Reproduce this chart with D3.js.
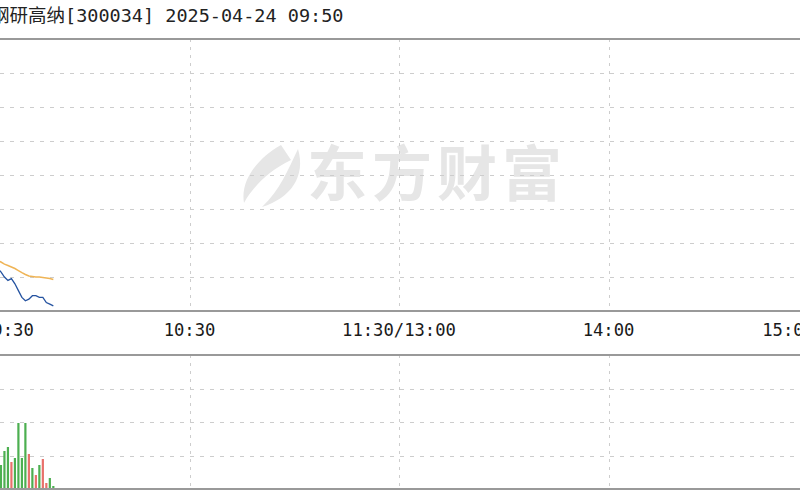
<!DOCTYPE html>
<html>
<head>
<meta charset="utf-8">
<script src="https://cdn.jsdelivr.net/npm/d3@7/dist/d3.min.js"></script>
<style>
  html, body { margin: 0; padding: 0; background: #fff; }
  svg { display: block; }
</style>
</head>
<body>
<svg id="chart" width="800" height="500"></svg>
<script>
// ---- data ----
const titleName = "钢研高纳";
const titleRest = "[300034] 2025-04-24 09:50";
const watermarkText = "东方财富";
const prevClose = 11.52;
const priceStep = 0.2;
// minute index from 09:30 (0 .. 240)
const minutes = [0,1,2,3,4,5,6,7,8,9,10,11,12,13,14,15,16,17,18,19,20,21];
const price = [11.08,11.05,11.01,11.03,10.99,10.97,10.95,10.92,10.90,10.91,10.88,10.84,10.80,10.78,10.79,10.81,10.81,10.80,10.80,10.77,10.76,10.75];
const avgPrice = [11.080,11.061,11.049,11.038,11.026,11.017,11.008,10.996,10.988,10.979,10.970,10.958,10.946,10.935,10.926,10.923,10.920,10.920,10.917,10.914,10.911,10.905];
const volume = [6200,3100,2800,2100,2400,1900,1433,2269,2507,1612,1851,3940,1851,3940,2090,1254,836,1433,1791,358,657,179];
const direction = [-1,-1,-1,1,-1,-1,-1,-1,-1,1,-1,-1,-1,-1,1,-1,1,-1,1,1,-1,-1];
const tickMinutes = [0,60,120,180,240];
const tickLabels = ["09:30","10:30","11:30/13:00","14:00","15:00"];
const volumeMax = 8000;
const volumeTicks = [2000,4000,6000];

// ---- layout ----
const svg = d3.select("#chart");
const left = -20, right = 818;
const pTop = 39, pBot = 311, vTop = 355, vBot = 489;

const x = d3.scaleLinear().domain([0, 240]).range([left, right]);
const y = d3.scaleLinear().domain([prevClose - 4*priceStep, prevClose + 4*priceStep]).range([pBot, pTop]);
const yv = d3.scaleLinear().domain([0, volumeMax]).range([vBot, vTop]);

const gridColor = "#cdcdcd";
const dash = "4,6";

// watermark
const wm = svg.append("g").attr("fill", "#e6e6e6");
wm.append("path").attr("d", "M 281 145 C 258 158, 240 180, 244 203 C 253 187, 268 171, 291 160 Z");
wm.append("path").attr("d", "M 298 149 C 288 170, 280 190, 262 207 C 291 198, 306 176, 298 149 Z");
wm.append("text")
  .attr("x", 307).attr("y", 196)
  .attr("font-family", "'Noto Sans CJK SC', sans-serif")
  .attr("font-weight", "bold")
  .attr("font-size", 60)
  .attr("letter-spacing", 5)
  .text(watermarkText);

// price grid (horizontal)
const priceGridVals = d3.range(-3, 4).map(k => prevClose + k * priceStep);
svg.append("g").selectAll("line").data(priceGridVals).join("line")
  .attr("x1", 0).attr("x2", 800)
  .attr("y1", d => Math.round(y(d)) + 0.5).attr("y2", d => Math.round(y(d)) + 0.5)
  .attr("stroke", gridColor).attr("stroke-dasharray", dash);

// volume grid (horizontal)
svg.append("g").selectAll("line").data(volumeTicks).join("line")
  .attr("x1", 0).attr("x2", 800)
  .attr("y1", d => Math.round(yv(d)) + 0.5).attr("y2", d => Math.round(yv(d)) + 0.5)
  .attr("stroke", gridColor).attr("stroke-dasharray", dash);

// vertical grid
const innerTicks = tickMinutes.slice(1, -1);
[[pTop, pBot], [vTop, vBot]].forEach(([t, b]) => {
  svg.append("g").selectAll("line").data(innerTicks).join("line")
    .attr("x1", d => Math.round(x(d)) + 0.5).attr("x2", d => Math.round(x(d)) + 0.5)
    .attr("y1", t).attr("y2", b)
    .attr("stroke", gridColor).attr("stroke-dasharray", "3,5");
});

// panel borders
[pTop, pBot, vTop, vBot].forEach(v => {
  svg.append("line").attr("x1", 0).attr("x2", 800).attr("y1", v).attr("y2", v)
    .attr("stroke", "#999").attr("stroke-width", 2);
});

// volume bars
const vol = minutes.map((m, i) => ({m, v: volume[i], d: direction[i]}));
svg.append("g").selectAll("rect").data(vol).join("rect")
  .attr("x", d => x(d.m) - 1.1)
  .attr("width", 2.2)
  .attr("y", d => yv(d.v))
  .attr("height", d => vBot - 1 - yv(d.v))
  .attr("fill", d => d.d > 0 ? "#e8716b" : "#4caf50");

// average line
const pts = minutes.map((m, i) => ({m, p: price[i], a: avgPrice[i]}));
svg.append("path").datum(pts)
  .attr("fill", "none").attr("stroke", "#efb456").attr("stroke-width", 1.5)
  .attr("d", d3.line().x(d => x(d.m)).y(d => y(d.a)));
// price line
svg.append("path").datum(pts)
  .attr("fill", "none").attr("stroke", "#2553a0").attr("stroke-width", 1.3)
  .attr("d", d3.line().x(d => x(d.m)).y(d => y(d.p)));

// x-axis labels
svg.append("g").selectAll("text").data(tickMinutes).join("text")
  .attr("x", (d, i) => i === 0 ? x(d) + 2 : (i === tickMinutes.length - 1 ? x(d) - 4 : x(d)))
  .attr("y", 336)
  .attr("text-anchor", (d, i) => i === 0 ? "start" : (i === tickMinutes.length - 1 ? "end" : "middle"))
  .attr("font-family", "'DejaVu Sans Mono', monospace")
  .attr("font-size", 17.2)
  .attr("fill", "#1a1a1a")
  .text((d, i) => tickLabels[i]);

// title
const title = svg.append("text")
  .attr("y", 22)
  .attr("font-family", "'DejaVu Sans Mono', 'Noto Sans CJK SC', monospace")
  .attr("font-size", 18.5)
  .attr("fill", "#222");
title.append("tspan").attr("x", -9).attr("font-family", "'Noto Sans CJK SC', sans-serif").text(titleName);
title.append("tspan").attr("x", 65).text(titleRest);
</script>
</body>
</html>
